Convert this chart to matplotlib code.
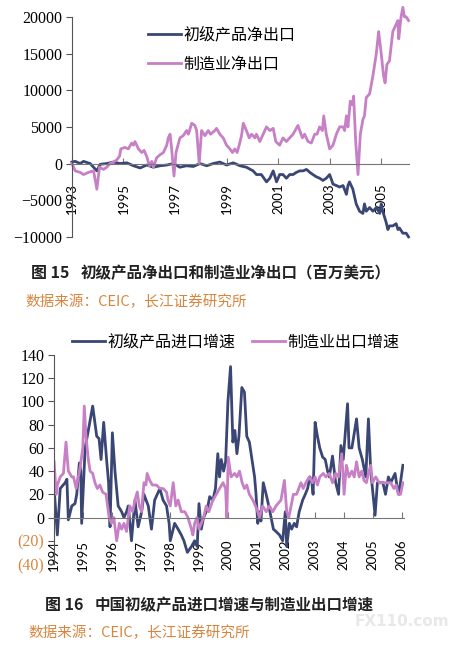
import matplotlib
matplotlib.use("Agg")
import matplotlib.pyplot as plt

plt.rcParams['font.family'] = ['Noto Sans CJK SC', 'DejaVu Sans']

# colours
navy = "#3a4674"
orchid = "#c77fc6"
orange = "#d8863f"

# ---- chart 15: net exports (million USD) ----
t15_prim = [1993.00, 1993.13, 1993.32, 1993.45, 1993.71, 1993.97, 1994.10, 1994.35, 1994.61, 1994.87,
            1995.13, 1995.39, 1995.65, 1995.90, 1996.16, 1996.42, 1996.68, 1996.94, 1997.19, 1997.45,
            1997.71, 1997.97, 1998.23, 1998.48, 1998.74, 1999.00, 1999.26, 1999.52, 1999.77, 2000.03,
            2000.16, 2000.35, 2000.55, 2000.68, 2000.81, 2000.94, 2001.06, 2001.19, 2001.32, 2001.45,
            2001.58, 2001.71, 2001.84, 2001.97, 2002.10, 2002.23, 2002.35, 2002.48, 2002.61, 2002.74,
            2002.87, 2003.00, 2003.13, 2003.26, 2003.39, 2003.52, 2003.65, 2003.71, 2003.77, 2003.90,
            2004.03, 2004.16, 2004.29, 2004.35, 2004.42, 2004.55, 2004.68, 2004.81, 2004.94, 2005.00,
            2005.06, 2005.19, 2005.26, 2005.32, 2005.45, 2005.58, 2005.65, 2005.71, 2005.84, 2005.97,
            2006.06]
prim_net = [200, 300, 0, 300, 0, -1000, -100, 0, 200, 0,
            100, -300, -600, -200, -500, -300, -200, 0, -500, -300,
            -400, 0, -300, 0, 200, -200, 100, -300, -500, -1000,
            -1500, -1500, -2500, -2000, -1000, -2500, -1500, -1500, -2000, -1500,
            -1500, -1200, -1000, -1000, -800, -1200, -1500, -1800, -2000, -2300,
            -2000, -1500, -2800, -3000, -3200, -3000, -4200, -3000, -2500, -3500,
            -5500, -6500, -6800, -5500, -6500, -6000, -6500, -6000, -6800, -5500,
            -6500, -8000, -9000, -8500, -8500, -8200, -9000, -8800, -9500, -9500,
            -10000]

t15_manu = [1993.00, 1993.13, 1993.32, 1993.45, 1993.65, 1993.84, 1993.97, 1994.07, 1994.23, 1994.35,
            1994.48, 1994.61, 1994.74, 1994.85, 1994.90, 1995.06, 1995.19, 1995.32, 1995.39, 1995.45,
            1995.58, 1995.71, 1995.80, 1995.90, 1996.01, 1996.10, 1996.16, 1996.29, 1996.42, 1996.55,
            1996.68, 1996.74, 1996.81, 1996.87, 1996.96, 1997.04, 1997.19, 1997.32, 1997.45, 1997.52,
            1997.65, 1997.77, 1997.84, 1997.94, 1998.03, 1998.16, 1998.29, 1998.38, 1998.55, 1998.61,
            1998.74, 1998.87, 1999.00, 1999.13, 1999.23, 1999.32, 1999.41, 1999.49, 1999.58, 1999.65,
            1999.77, 1999.88, 1999.97, 2000.10, 2000.16, 2000.29, 2000.42, 2000.55, 2000.68, 2000.81,
            2000.91, 2001.06, 2001.19, 2001.32, 2001.45, 2001.58, 2001.77, 2001.84, 2001.94, 2002.03,
            2002.16, 2002.29, 2002.42, 2002.51, 2002.61, 2002.72, 2002.77, 2002.87, 2003.00, 2003.13,
            2003.26, 2003.39, 2003.52, 2003.58, 2003.65, 2003.71, 2003.80, 2003.88, 2003.93, 2004.01,
            2004.10, 2004.19, 2004.29, 2004.35, 2004.42, 2004.55, 2004.68, 2004.81, 2004.90, 2005.00,
            2005.09, 2005.15, 2005.22, 2005.32, 2005.45, 2005.58, 2005.65, 2005.68, 2005.77, 2005.84,
            2005.90, 2005.97, 2006.06]
manu_net = [0, -1000, -1200, -1500, -1200, -1000, -3500, -500, -800, -500,
            0, 200, 500, 1000, 2000, 2200, 2000, 2800, 2500, 3000,
            2000, 1500, 1800, 1000, -300, 300, -500, 800, 1200, 1500,
            2500, 3500, 4000, 2000, -1700, 1500, 3500, 3800, 4500, 4000,
            5500, 5200, 4500, 0, 4500, 3800, 4500, 4000, 4500, 4800,
            4000, 3500, 2500, 2000, 1500, 2000, 1500, 2500, 3800, 5500,
            4500, 3500, 4000, 3500, 4000, 3000, 4000, 5000, 4500, 4800,
            3000, 2500, 3500, 3000, 3500, 4000, 5200, 4500, 3500, 4000,
            3000, 2800, 4000, 4000, 5000, 4500, 6500, 4000, 2000, 2500,
            4000, 5000, 5000, 4500, 6500, 5000, 8500, 8000, 9200, 3000,
            -1500, 4000, 6000, 6500, 9000, 9500, 12000, 15000, 18000, 15000,
            12000, 11000, 13500, 14000, 18000, 19000, 19500, 17000, 20000, 21300,
            20000, 20000, 19500]

years15 = [1993, 1995, 1997, 1999, 2001, 2003, 2005]
yticks15 = [-10000, -5000, 0, 5000, 10000, 15000, 20000]

# ---- chart 16: growth rates (%) ----
t16_prim = [1994.00, 1994.11, 1994.21, 1994.38, 1994.44, 1994.49, 1994.61, 1994.72, 1994.78, 1994.87,
            1994.92, 1994.95, 1995.07, 1995.18, 1995.33, 1995.47, 1995.55, 1995.62, 1995.71, 1995.81,
            1995.88, 1995.93, 1996.01, 1996.10, 1996.21, 1996.33, 1996.41, 1996.50, 1996.56, 1996.67,
            1996.79, 1996.90, 1997.02, 1997.10, 1997.25, 1997.36, 1997.47, 1997.56, 1997.65, 1997.76,
            1997.88, 1997.97, 1998.01, 1998.16, 1998.28, 1998.39, 1998.48, 1998.60, 1998.74, 1998.85,
            1998.94, 1999.00, 1999.08, 1999.16, 1999.25, 1999.31, 1999.37, 1999.48, 1999.57, 1999.65,
            1999.71, 1999.77, 1999.85, 1999.92, 2000.00, 2000.09, 2000.17, 2000.24, 2000.31, 2000.38,
            2000.48, 2000.57, 2000.65, 2000.74, 2000.83, 2000.92, 2000.97, 2001.03, 2001.09, 2001.14,
            2001.22, 2001.32, 2001.41, 2001.49, 2001.57, 2001.66, 2001.78, 2001.89, 2001.98, 2002.03,
            2002.12, 2002.20, 2002.29, 2002.37, 2002.46, 2002.58, 2002.67, 2002.75, 2002.83, 2002.90,
            2002.94, 2003.01, 2003.09, 2003.17, 2003.27, 2003.36, 2003.44, 2003.50, 2003.61, 2003.72,
            2003.82, 2003.90, 2003.98, 2004.13, 2004.18, 2004.28, 2004.44, 2004.53, 2004.64, 2004.76,
            2004.85, 2004.93, 2005.08, 2005.16, 2005.27, 2005.35, 2005.44, 2005.54, 2005.62, 2005.77,
            2005.85, 2005.90, 2006.04]
prim_imp = [25, -15, 25, 30, 33, -2, 10, 12, 20, 47,
            40, -5, 60, 75, 96, 70, 68, 50, 82, 50,
            30, -8, 73, 40, 10, 5, 0, 5, 10, -20,
            15, -8, 5, 20, 10, -10, 15, 20, 25, 15,
            10, -5, -20, -5, -10, -15, -20, -30, -25, -20,
            -25, 12, -10, 0, 5, 10, 18, 15, 25, 55,
            35, 50, 40, 48, 100, 130, 65, 75, 55, 70,
            112, 108, 70, 65, 50, 35, 20, -5, 5, -3,
            30, 20, 10, 0, -10, -12, -15, -20, 5, -25,
            -5, -10, -5, -8, 5, 15, 20, 25, 35, 30,
            20, 82, 70, 60, 52, 50, 40, 35, 53, 30,
            20, 62, 50, 98, 60, 60, 85, 60, 50, 35,
            85, 40, 2, 30, 30, 30, 20, 35, 30, 38,
            25, 20, 45]

t16_manu = [1994.00, 1994.07, 1994.11, 1994.21, 1994.32, 1994.41, 1994.49, 1994.61, 1994.67, 1994.76,
            1994.89, 1994.99, 1995.04, 1995.10, 1995.18, 1995.24, 1995.33, 1995.41, 1995.49, 1995.58,
            1995.67, 1995.79, 1995.90, 1995.98, 1996.06, 1996.16, 1996.25, 1996.33, 1996.41, 1996.50,
            1996.61, 1996.71, 1996.79, 1996.87, 1996.94, 1997.02, 1997.10, 1997.17, 1997.21, 1997.30,
            1997.39, 1997.53, 1997.65, 1997.76, 1997.88, 1997.93, 1998.01, 1998.11, 1998.20, 1998.28,
            1998.39, 1998.51, 1998.62, 1998.74, 1998.79, 1998.85, 1998.93, 1999.00, 1999.08, 1999.16,
            1999.25, 1999.34, 1999.48, 1999.60, 1999.71, 1999.83, 1999.92, 1999.96, 2000.01, 2000.11,
            2000.23, 2000.31, 2000.40, 2000.49, 2000.57, 2000.65, 2000.74, 2000.86, 2000.95, 2001.03,
            2001.09, 2001.20, 2001.32, 2001.43, 2001.55, 2001.66, 2001.83, 2001.95, 2002.03, 2002.10,
            2002.18, 2002.26, 2002.37, 2002.52, 2002.60, 2002.69, 2002.81, 2002.92, 2003.01, 2003.09,
            2003.17, 2003.29, 2003.38, 2003.50, 2003.61, 2003.72, 2003.82, 2003.93, 2004.01, 2004.09,
            2004.18, 2004.28, 2004.36, 2004.44, 2004.53, 2004.62, 2004.70, 2004.78, 2004.87, 2004.93,
            2004.99, 2005.10, 2005.22, 2005.44, 2005.62, 2005.73, 2005.81, 2005.88, 2005.96, 2006.04]
manu_exp = [48, 20, 28, 35, 38, 65, 40, 35, 35, 25,
            42, 60, 96, 70, 50, 40, 38, 30, 25, 28,
            22, 20, 0, -5, 0, -20, -5, -10, -5, -12,
            10, 5, 15, 22, 10, 5, 30, 28, 38, 32,
            28, 28, 25, 25, 22, 15, 10, 30, 10, 15,
            5, 5, 0, -10, -15, -5, 0, -10, -5, 0,
            10, 5, 15, 20, 25, 30, 25, 0, 52, 35,
            38, 35, 40, 30, 25, 28, 20, 15, 10, 5,
            0, 10, 5, 10, 5, 10, 15, 32, 5, 0,
            10, 20, 20, 30, 25, 30, 35, 30, 35, 28,
            35, 38, 35, 38, 30, 38, 35, 55, 20, 45,
            35, 40, 35, 48, 35, 40, 32, 30, 40, 45,
            30, 35, 30, 30, 30, 25, 28, 20, 20, 30]

years16 = list(range(1994, 2007))
yticks16 = [-40, -20, 0, 20, 40, 60, 80, 100, 120, 140]
ylabels16 = ["(40)", "(20)", "0", "20", "40", "60", "80", "100", "120", "140"]

cjk = ['Noto Sans CJK SC', 'DejaVu Sans']
serif = 'Liberation Serif'

fig = plt.figure(figsize=(4.55, 6.49), dpi=100)

# ---------------- top chart ----------------
ax1 = fig.add_axes([0.158, 0.635, 0.741, 0.339])
ax1.plot(t15_prim, prim_net, color=navy, lw=2.0, label="初级产品净出口", clip_on=False)
ax1.plot(t15_manu, manu_net, color=orchid, lw=2.0, label="制造业净出口", clip_on=False)
ax1.set_xlim(1993, 2006.08)
ax1.set_ylim(-10000, 20000)
ax1.spines['top'].set_visible(False)
ax1.spines['right'].set_visible(False)
ax1.spines['bottom'].set_position(('data', 0))
ax1.spines['bottom'].set_color('#777777')
ax1.spines['left'].set_color('#555555')
ax1.tick_params(axis='x', direction='in', length=4, pad=14, color='#777777', labelrotation=90)
ax1.tick_params(axis='y', direction='out', length=4, pad=3, color='#555555')
ax1.set_yticks(yticks15)
ax1.set_yticklabels([str(v).replace("-", "\u2212") for v in yticks15],
                    fontfamily=serif, fontsize=11.5)
ax1.set_xticks(years15)
ax1.set_xticklabels([str(y) for y in years15], rotation=90, fontfamily='Lato', fontsize=9.5)
ax1.patch.set_alpha(0)
leg1 = ax1.legend(loc='upper left', bbox_to_anchor=(0.225, 0.955), frameon=False,
                  prop={'family': cjk, 'size': 11.5}, handlelength=2.1, handletextpad=0.15,
                  labelspacing=0.75, borderpad=0, borderaxespad=0)

fig.text(0.068, 0.579, "图 15", fontsize=11.5, fontweight='bold', family=cjk, color='#222222', va='center')
fig.text(0.178, 0.579, "初级产品净出口和制造业净出口（百万美元）", fontsize=11.2, fontweight='bold',
         family=cjk, color='#222222', va='center')
fig.text(0.055, 0.535, "数据来源：CEIC，长江证券研究所", fontsize=10.5, family=cjk,
         color=orange, va='center')

# ---------------- bottom chart ----------------
ax2 = fig.add_axes([0.119, 0.131, 0.769, 0.322])
ax2.plot(t16_prim, prim_imp, color=navy, lw=2.0, label="初级产品进口增速")
ax2.plot(t16_manu, manu_exp, color=orchid, lw=2.0, label="制造业出口增速")
ax2.set_xlim(1994, 2006.08)
ax2.set_ylim(-40, 140)
ax2.spines['top'].set_visible(False)
ax2.spines['right'].set_visible(False)
ax2.spines['bottom'].set_position(('data', 0))
ax2.spines['bottom'].set_color('#777777')
ax2.spines['left'].set_color('#555555')
ax2.tick_params(axis='x', direction='in', length=4, pad=16, color='#777777', labelrotation=90)
ax2.tick_params(axis='y', direction='out', length=4, pad=3, color='#555555')
ax2.set_yticks(yticks16)
ax2.set_yticklabels(ylabels16, fontfamily=serif, fontsize=11.5)
for lab, v in zip(ax2.get_yticklabels(), yticks16):
    if v < 0:
        lab.set_color(orange)
ax2.set_xticks(years16)
ax2.set_xticklabels([str(y) for y in years16], rotation=90, fontfamily='Lato', fontsize=9.5)
ax2.patch.set_alpha(0)
leg2 = ax2.legend(loc='lower left', bbox_to_anchor=(0.05, 1.02), ncol=2, frameon=False,
                  prop={'family': cjk, 'size': 11.5}, handlelength=2.1, handletextpad=0.15,
                  columnspacing=1.0, borderpad=0, borderaxespad=0)

fig.text(0.099, 0.068, "图 16", fontsize=11.5, fontweight='bold', family=cjk, color='#222222', va='center')
fig.text(0.208, 0.068, "中国初级产品进口增速与制造业出口增速", fontsize=11.2, fontweight='bold',
         family=cjk, color='#222222', va='center')
fig.text(0.062, 0.025, "数据来源：CEIC，长江证券研究所", fontsize=10.5, family=cjk,
         color=orange, va='center')
fig.text(0.78, 0.042, "FX110.com", fontsize=11, family='DejaVu Sans', fontweight='bold',
         color='#e8e8e8', va='center')

fig.savefig("out.png", dpi=100)
